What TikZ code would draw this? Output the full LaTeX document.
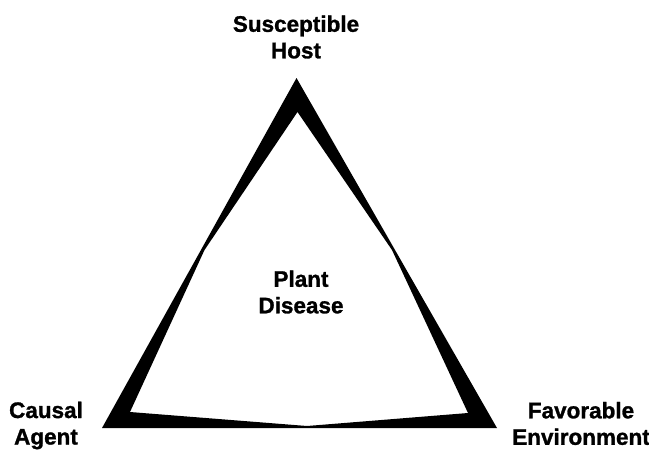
\documentclass[tikz,border=0pt]{standalone}
\usepackage{fontspec}
\setmainfont[BoldFeatures={FakeBold=1.2}]{Liberation Sans}
\begin{document}
\begin{tikzpicture}[x=1pt, y=-1pt,
    term/.style={align=center, inner sep=0pt, font=\fontsize{22.5}{26.5}\selectfont\bfseries}]
    \useasboundingbox (0,0) rectangle (649,453);
    % Outer corners
    \coordinate (top) at (296.5,78);
    \coordinate (bl) at (102,428);
    \coordinate (br) at (497,428);
    % Inner edge, pinched at the middle of each side
    \coordinate (itop) at (297.5,112);
    \coordinate (ileft) at (204.5,250);
    \coordinate (ibl) at (130,412);
    \coordinate (ibot) at (307,426);
    \coordinate (ibr) at (468,413);
    \coordinate (iright) at (392,250);
    % Triangle
    \fill[even odd rule] (top) -- (bl) -- (br) -- cycle
        (itop) -- (ileft) -- (ibl) -- (ibot) -- (ibr) -- (iright) -- cycle;
    % Labels
    \node[term] (host) at (296,37) {Susceptible\\Host};
    \node[term] (agent) at (46,425.5) {Causal\\Agent};
    \node[term] (env) at (581,423.5) {Favorable\\Environment};
    \node[term] (disease) at (301,292) {Plant\\Disease};
\end{tikzpicture}
\end{document}
